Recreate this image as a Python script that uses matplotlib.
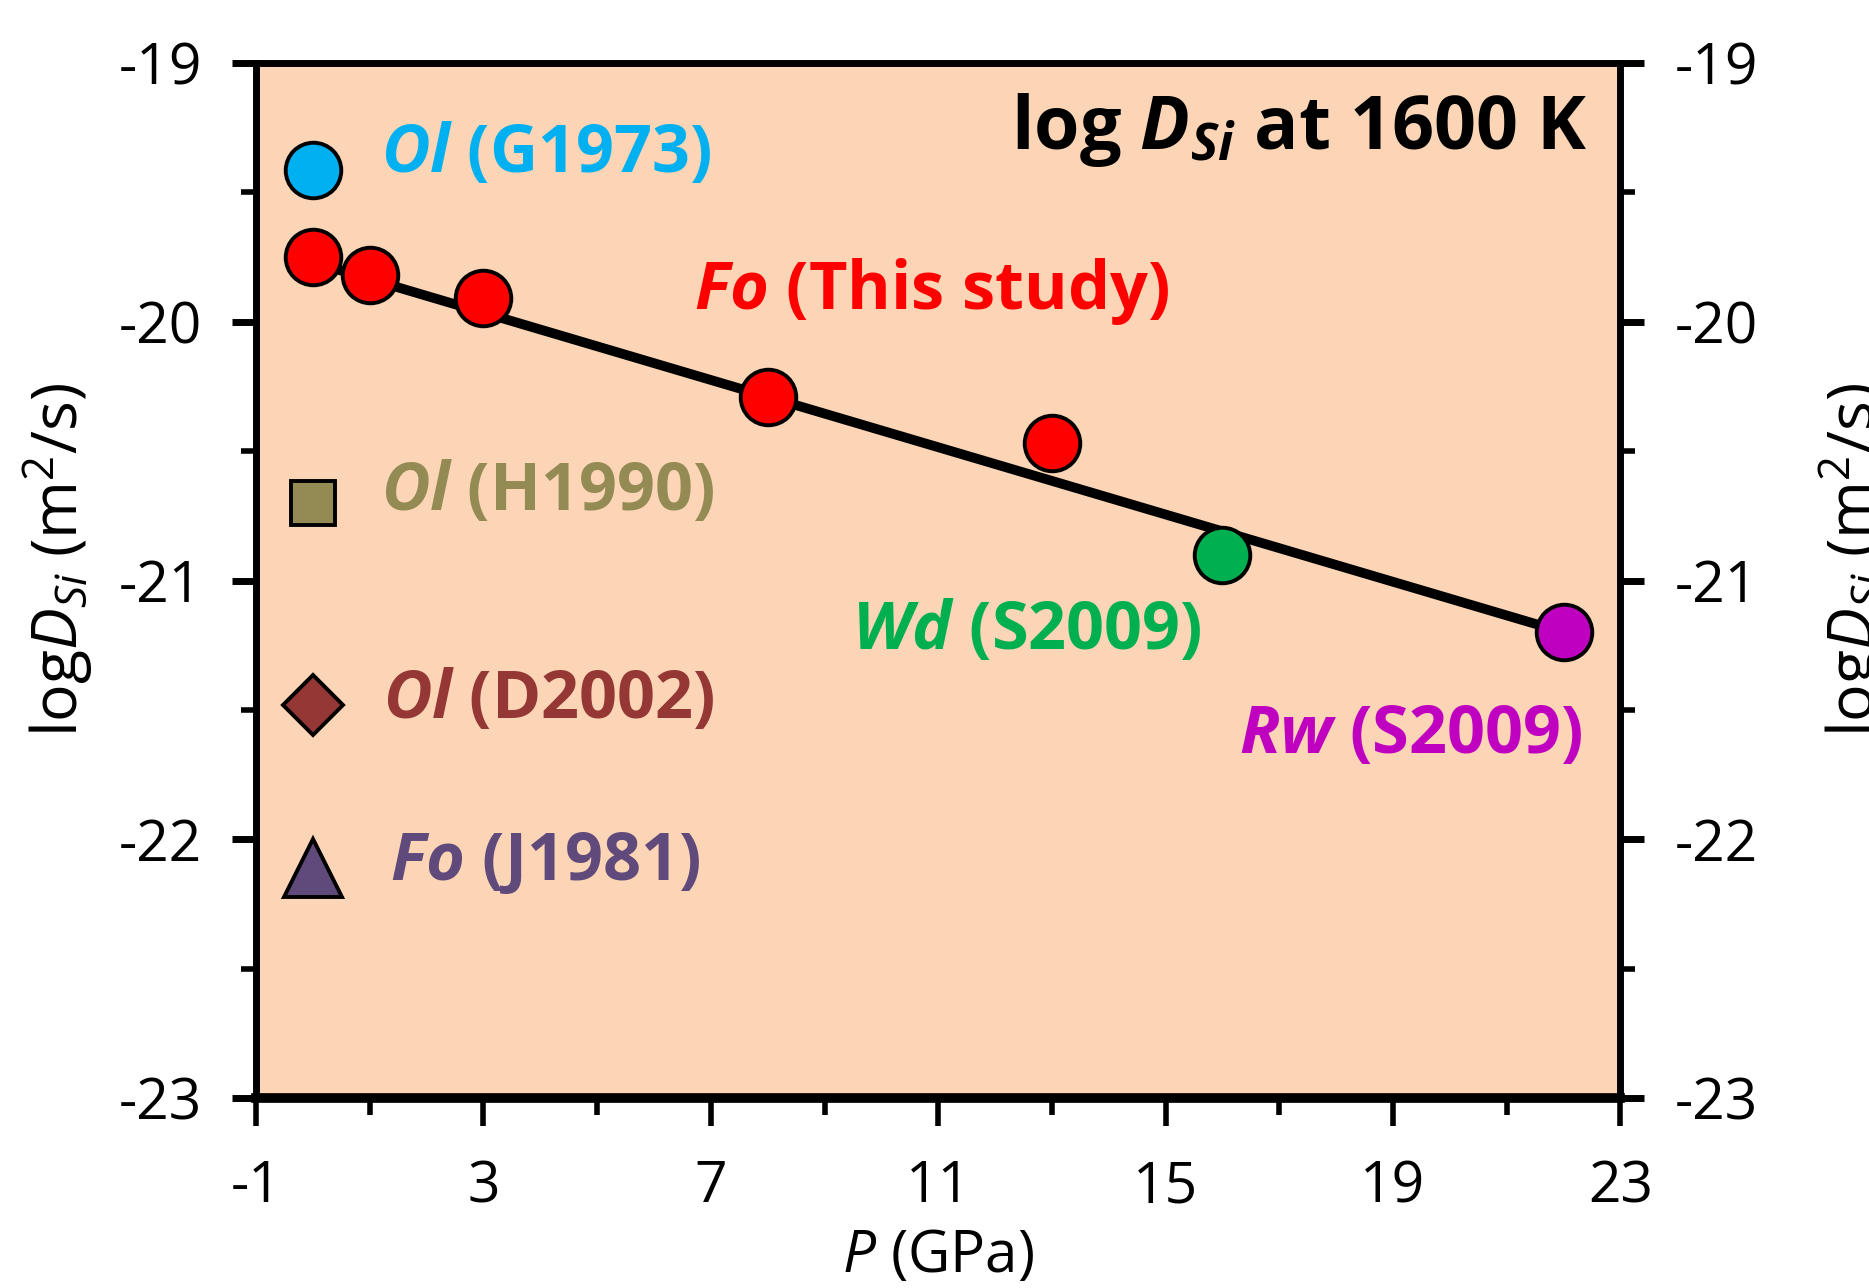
import matplotlib
matplotlib.use('Agg')
import matplotlib.pyplot as plt
from matplotlib.ticker import FixedLocator, MultipleLocator

plt.rcParams['font.family'] = ['Open Sans', 'DejaVu Sans']
plt.rcParams['axes.unicode_minus'] = False
plt.rcParams['mathtext.fontset'] = 'custom'
plt.rcParams['mathtext.rm'] = 'Open Sans'
plt.rcParams['mathtext.it'] = 'Open Sans:italic'
plt.rcParams['mathtext.bf'] = 'Open Sans:bold'
plt.rcParams['mathtext.bfit'] = 'Open Sans:italic:bold'

# data (P in GPa, log D_Si in m^2/s)
P_this = [0, 1, 3, 8, 13]
logD_this = [-19.75, -19.82, -19.91, -20.29, -20.47]
P_fit = [0, 22]
logD_fit = [-19.77, -21.20]

P_G1973, logD_G1973 = [0], [-19.415]
P_H1990, logD_H1990 = [0], [-20.70]
P_D2002, logD_D2002 = [0], [-21.48]
P_J1981, logD_J1981 = [0], [-22.11]
P_Wd, logD_Wd = [16], [-20.90]
P_Rw, logD_Rw = [22], [-21.20]

xticks = [-1, 3, 7, 11, 15, 19, 23]
xminor = [1, 5, 9, 13, 17, 21]

bg = '#FBD5B5'
c_blue = '#00B0F0'
c_red = '#FF0000'
c_olive = '#948A54'
c_brown = '#953735'
c_purple = '#604A7B'
c_green = '#00B050'
c_mag = '#C000C0'

fig = plt.figure(figsize=(18.69, 12.88), dpi=100)
ax = fig.add_axes([0.137, 0.1475, 0.730, 0.8036])
ax.set_facecolor(bg)

ax.plot(P_fit, logD_fit, color='black', lw=7, zorder=2)

ms = 40
mew = 2.8
ax.plot(P_this, logD_this, 'o', ms=ms, mfc=c_red, mec='black', mew=mew, zorder=3)
ax.plot(P_G1973, logD_G1973, 'o', ms=ms, mfc=c_blue, mec='black', mew=mew, zorder=3)
ax.plot(P_Wd, logD_Wd, 'o', ms=ms, mfc=c_green, mec='black', mew=mew, zorder=3)
ax.plot(P_Rw, logD_Rw, 'o', ms=ms, mfc=c_mag, mec='black', mew=mew, zorder=3)
ax.plot(P_H1990, logD_H1990, 's', ms=31, mfc=c_olive, mec='black', mew=mew, zorder=3)
ax.plot(P_D2002, logD_D2002, 'D', ms=31, mfc=c_brown, mec='black', mew=mew, zorder=3)
ax.plot(P_J1981, logD_J1981, '^', ms=42, mfc=c_purple, mec='black', mew=mew, zorder=3)

fs = 48
ax.text(1.2, -19.355, r'$\mathbfit{Ol}$ (G1973)', color=c_blue, fontsize=fs, fontweight='bold', va='center')
ax.text(6.71, -19.885, r'$\mathbfit{Fo}$ (This study)', color=c_red, fontsize=fs, fontweight='bold', va='center')
ax.text(1.2, -20.66, r'$\mathbfit{Ol}$ (H1990)', color=c_olive, fontsize=fs, fontweight='bold', va='center')
ax.text(9.48, -21.198, r'$\mathbfit{Wd}$ (S2009)', color=c_green, fontsize=fs, fontweight='bold', va='center')
ax.text(1.24, -21.465, r'$\mathbfit{Ol}$ (D2002)', color=c_brown, fontsize=fs, fontweight='bold', va='center')
ax.text(16.29, -21.60, r'$\mathbfit{Rw}$ (S2009)', color=c_mag, fontsize=fs, fontweight='bold', va='center')
ax.text(1.35, -22.09, r'$\mathbfit{Fo}$ (J1981)', color=c_purple, fontsize=fs, fontweight='bold', va='center')
ax.text(22.43, -19.26, r'log $\mathbfit{D}_{\mathbfit{Si}}$ at 1600 K', color='black', fontsize=53,
        fontweight='bold', va='center', ha='right')

ax.set_xlim(-1, 23)
ax.set_ylim(-23, -19)
ax.xaxis.set_major_locator(FixedLocator(xticks))
ax.xaxis.set_minor_locator(FixedLocator(xminor))
ax.yaxis.set_major_locator(MultipleLocator(1))
ax.yaxis.set_minor_locator(MultipleLocator(0.5))

for s in ax.spines.values():
    s.set_linewidth(5)
ax.spines['bottom'].set_linewidth(7)

ax.tick_params(axis='x', which='major', direction='out', length=20, width=4, labelsize=41, pad=24, top=False)
ax.tick_params(axis='x', which='minor', direction='out', length=12, width=4, top=False)
ax.tick_params(axis='y', which='major', direction='out', length=17, width=5, labelsize=41, pad=22,
               left=True, right=True, labelleft=True, labelright=True)
ax.tick_params(axis='y', which='minor', direction='out', length=11, width=4, left=True, right=True)

ax.set_xlabel(r'$\mathit{P}$ (GPa)', fontsize=42)
ax.xaxis.set_label_coords(0.5, -0.125)

ylab = r'log$\mathit{D}_{\mathit{Si}}$ (m$^2$/s)'
ax.set_ylabel(ylab, fontsize=45)
ax.yaxis.set_label_coords(-0.118, 0.52)
fig.text(0.992, 0.565, ylab, fontsize=45, rotation=90, ha='center', va='center')

fig.savefig('out.png', dpi=100)
